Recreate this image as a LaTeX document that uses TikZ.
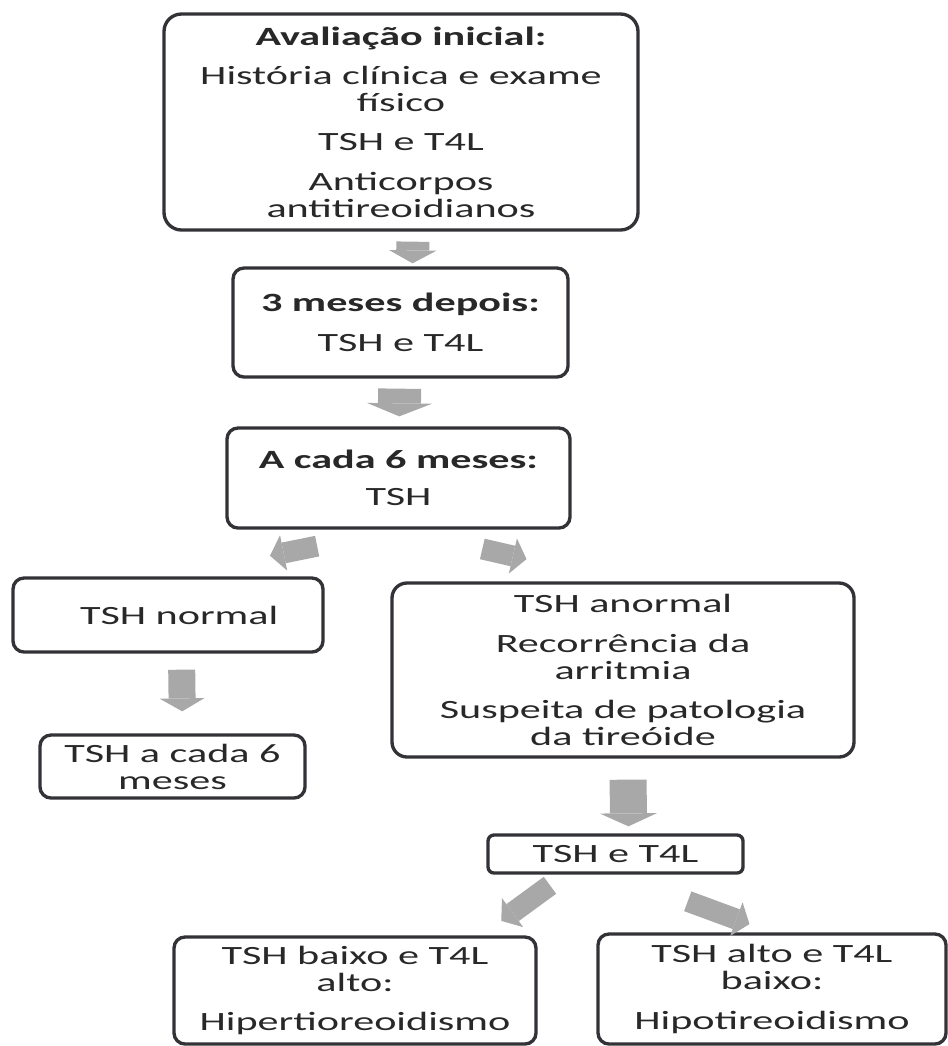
\documentclass[tikz,border=0pt]{standalone}
\usepackage{fontspec}
\setmainfont{Carlito}[FakeStretch=1.6]
\usetikzlibrary{arrows.meta}
\definecolor{boxline}{RGB}{50,50,55}
\definecolor{arrowgray}{RGB}{168,168,168}
\definecolor{txtgray}{RGB}{40,40,40}

\begin{document}
\begin{tikzpicture}[
    box/.style={draw=boxline, line width=1.9pt, rounded corners=0.22cm, align=center,
      inner sep=0pt, text=txtgray, font=\fontsize{15}{15.4}\selectfont},
    blk/.style 2 args={draw=arrowgray, line width=#1,
      -{Triangle[length=0.26cm, width=#2, line width=0pt]}},
    blksmall/.style={draw=arrowgray, line width=0.42cm,
      -{Triangle[length=0.28cm, width=0.72cm, line width=0pt]}}
  ]
  \useasboundingbox (0,0) rectangle (18.96,-20.92);

  \node[box, rounded corners=0.35cm, minimum width=9.48cm, minimum height=4.32cm] (init) at (8.02,-2.44)
    {\textbf{Avaliação inicial:}\\[7pt] História clínica e exame\\ físico\\[7pt] TSH e T4L\\[7pt] Anticorpos\\ antitireoidianos};
  \node[box, minimum width=6.70cm, minimum height=2.18cm] (tres) at (8.01,-6.45)
    {\textbf{3 meses depois:}\\[7pt] TSH e T4L};
  \node[box, minimum width=6.86cm, minimum height=2.00cm] (seis) at (7.97,-9.56)
    {\textbf{A cada 6 meses:}\\[6pt] TSH};
  \node[box, minimum width=6.20cm, minimum height=1.48cm] (normal) at (3.36,-12.30)
    {\hspace*{0.45cm}TSH normal};
  \node[box, minimum width=5.30cm, minimum height=1.26cm] (cada6) at (3.45,-15.33)
    {TSH a cada 6\\ meses};
  \node[box, rounded corners=0.3cm, minimum width=9.24cm, minimum height=3.48cm] (anormal) at (12.46,-13.40)
    {TSH anormal\\[7pt] Recorrência da\\ arritmia\\[7pt] Suspeita de patologia\\ da tireóide};
  \node[box, rounded corners=0.12cm, minimum width=5.10cm, minimum height=0.76cm] (t4l) at (12.31,-17.08)
    {TSH e T4L};
  \node[box, minimum width=7.24cm, minimum height=2.14cm] (hiper) at (7.10,-19.81)
    {TSH baixo e T4L\\ alto:\\[7pt] Hipertioreoidismo};
  \node[box, minimum width=6.96cm, minimum height=2.20cm] (hipo) at (15.44,-19.78)
    {TSH alto e T4L\\ baixo:\\[7pt] Hipotireoidismo};

  \draw[blk={0.66cm}{0.95cm}, shorten <=0.2cm, shorten >=0.06cm] ([xshift=0.24cm]init.south) -- ([xshift=0.24cm]tres.north);
  \draw[blk={0.86cm}{1.3cm}, shorten <=0.2cm, shorten >=0.2cm] (tres) -- (seis);
  \draw[blksmall, shorten <=1.66cm, shorten >=2.08cm] (seis.south) -- (normal.north);
  \draw[blksmall, shorten <=1.72cm, shorten >=1.98cm] (seis.south) -- (anormal.north);
  \draw[blk={0.54cm}{0.9cm}, shorten <=0.32cm, shorten >=0.44cm] ([xshift=0.27cm]normal.south) -- ([xshift=0.2cm]cada6.north);
  \draw[blk={0.74cm}{1.14cm}, shorten <=0.42cm, shorten >=0.14cm] ([xshift=0.1cm]anormal.south) -- ([xshift=0.26cm]t4l.north);
  \draw[blksmall, shorten <=0.36cm, shorten >=0.49cm] ([xshift=-1.02cm]t4l.south) -- ([xshift=2.53cm]hiper.north);
  \draw[blksmall, shorten <=1.54cm, shorten >=0.48cm] (t4l.south) -- (hipo.north);
\end{tikzpicture}
\end{document}
